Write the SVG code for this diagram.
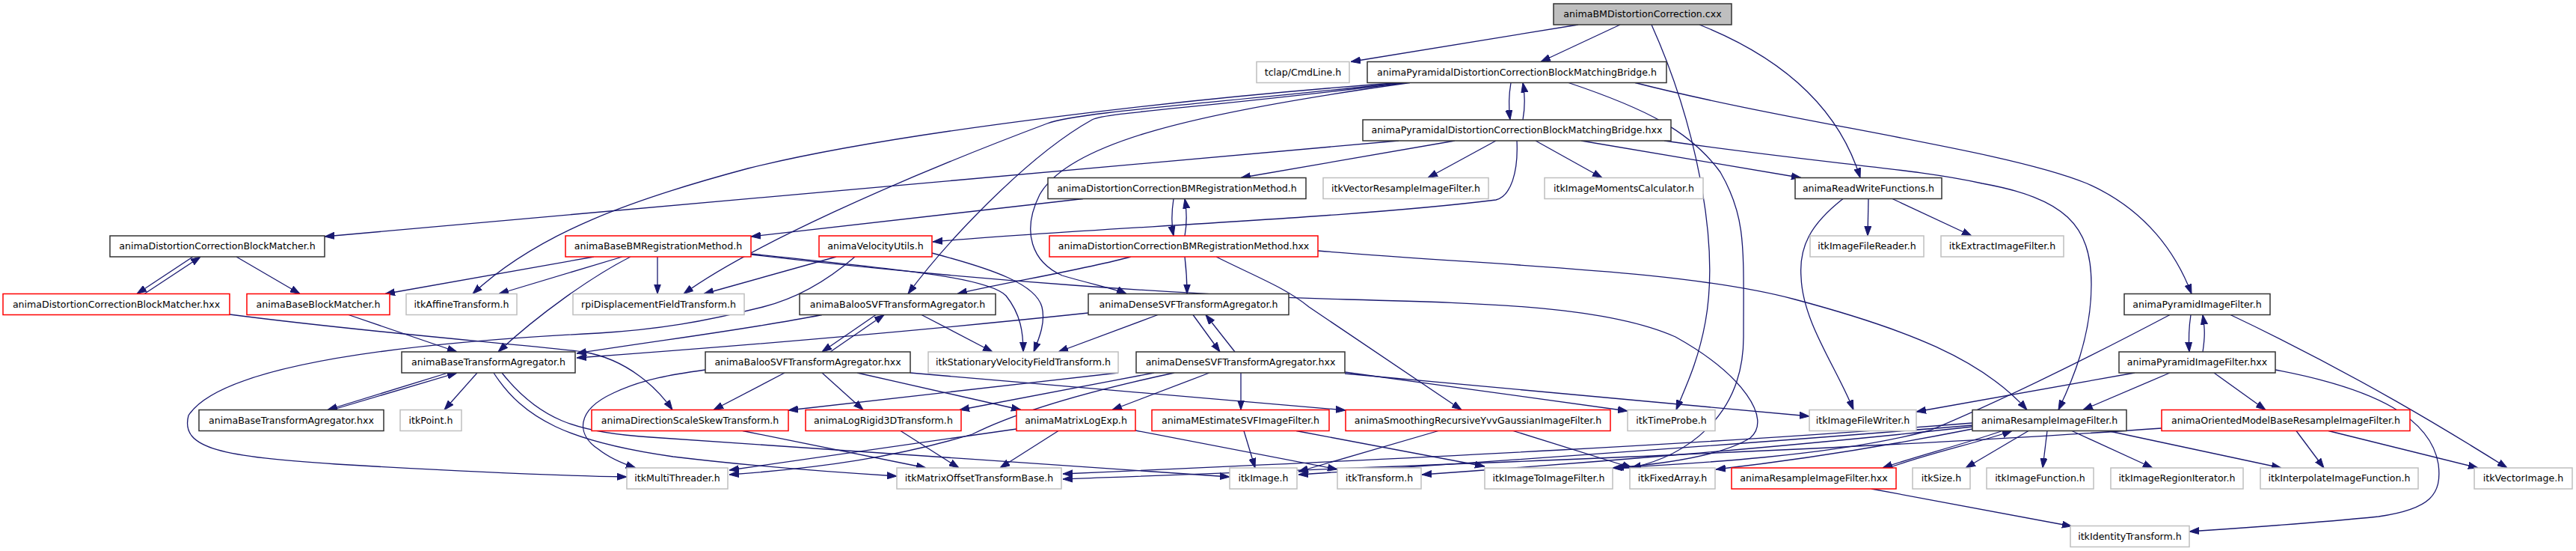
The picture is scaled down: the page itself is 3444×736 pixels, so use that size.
<svg xmlns="http://www.w3.org/2000/svg" width="3444" height="736" viewBox="0 0 3444 736">
<style>
.node rect{stroke-width:1.5}
.dk rect{fill:#fff;stroke:#333}
.gr rect{fill:#fff;stroke:#bfbfbf}
.rd rect{fill:#fff;stroke:#ff0000}
.top rect{fill:#bfbfbf;stroke:#333}
.node text{font-family:"DejaVu Sans",sans-serif;font-size:12.6px;fill:#000;text-anchor:middle}
#edges path{fill:none;stroke:#191970;stroke-width:1.3;marker-end:url(#ah)}
</style>
<defs>
<marker id="ah" viewBox="0 0 13 10" refX="13" refY="5" markerWidth="13" markerHeight="10" orient="auto" markerUnits="userSpaceOnUse">
<path d="M0,0.5 L13,5 L0,9.5 z" fill="#191970" stroke="#191970" stroke-width="1"/>
</marker>
</defs>
<rect width="3444" height="736" fill="#fff"/>
<g id="edges">
<path d="M2110,33 L1806,82.5"/>
<path d="M2166,33 L2060,82.5"/>
<path d="M2208,33 C2265,160 2300,320 2280,430 C2270,485 2252,520 2241,547.5"/>
<path d="M2272,33 C2390,80 2460,150 2487,237.5"/>
<path d="M2020,110.5 C2017,128 2017,145 2019,160"/>
<path d="M2036,160 C2039,143 2039,127 2036,110.5"/>
<path d="M2186,110.5 C2400,165 2680,200 2790,245 C2870,280 2910,340 2930,392.5"/>
<path d="M2097,110.5 C2200,145 2260,175 2300,230 C2335,290 2331,330 2331,450 C2331,560 2250,610 2181,625"/>
<path d="M1870,110.5 C1600,130 1200,175 1000,225 C850,265 720,310 632,392.5"/>
<path d="M1875,110.5 C1600,140 1440,150 1400,165 C1200,240 1000,330 914,392.5"/>
<path d="M1880,110.5 C1600,145 1480,150 1460,160 C1370,210 1260,330 1214,392.5"/>
<path d="M1885,110.5 C1600,150 1430,190 1390,260 C1365,310 1380,350 1420,368 C1460,380 1490,385 1506,392.5"/>
<path d="M1945,188 L1659,237.5"/>
<path d="M1870,188 L434,316"/>
<path d="M2000,188 L1909,237.5"/>
<path d="M2053,188 L2142,237.5"/>
<path d="M2114,188 L2408,237.5"/>
<path d="M2225,188 C2450,220 2560,225 2650,245 C2760,265 2796,300 2796,380 C2796,450 2770,510 2752,547.5"/>
<path d="M2028,188 C2030,230 2020,262 2000,267 C1800,292 1450,305 1247,323"/>
<path d="M1448,265.5 L1004,316"/>
<path d="M1569,265.5 C1566,285 1566,300 1569,315"/>
<path d="M1584,315 C1587,298 1587,283 1584,265.5"/>
<path d="M1512,343 C1450,360 1330,380 1280,392.5"/>
<path d="M1584,343 C1586,360 1587,375 1587,392.5"/>
<path d="M1626,343 C1680,370 1720,385 1750,410 L1954,547.5"/>
<path d="M1762,335 C2000,355 2250,360 2400,400 C2550,440 2650,480 2710,547.5"/>
<path d="M2498,265.5 L2497,315"/>
<path d="M2530,265.5 L2636,315"/>
<path d="M2464,265.5 C2420,300 2405,330 2408,370 C2410,430 2455,490 2478,547.5"/>
<path d="M258,343 L183,392.5"/>
<path d="M193,392.5 L268,343"/>
<path d="M316,343 L401,392.5"/>
<path d="M794,343 L515,392.5"/>
<path d="M832,343 L667,392.5"/>
<path d="M843,343 C790,370 720,420 666,470"/>
<path d="M879,343 L879,392.5"/>
<path d="M1004,339 C1200,360 1320,370 1345,395 C1365,420 1368,445 1368,470"/>
<path d="M1004,340 C1300,375 1600,395 1800,400 C2000,405 2150,410 2240,450 C2330,500 2370,560 2340,585 C2300,610 2220,620 2158,625"/>
<path d="M1118,343 L941,392.5"/>
<path d="M1143,343 C1100,380 1060,400 1020,410 C940,430 880,440 800,445 C600,455 300,480 252,555 C240,600 300,610 450,620 C650,632 780,636 838,637"/>
<path d="M1246,338 C1330,360 1385,380 1393,410 C1398,430 1390,450 1382,470"/>
<path d="M307,420 C500,445 700,460 780,470 C840,480 880,520 899,547.5"/>
<path d="M466,420.5 L611,470"/>
<path d="M1099,420.5 C1000,440 900,452 771,472"/>
<path d="M1455,418 C1200,445 950,465 771,478"/>
<path d="M1171,420.5 L1099,470"/>
<path d="M1110,470 L1182,420.5"/>
<path d="M1232,420.5 L1327,470"/>
<path d="M1548,420.5 L1415,470"/>
<path d="M1595,420.5 L1631,470"/>
<path d="M1651,470 L1612,420.5"/>
<path d="M599,498 L438,547.5"/>
<path d="M444,547.5 L611,498"/>
<path d="M638,498 L594,547.5"/>
<path d="M660,498 C700,560 760,590 900,610 C1000,622 1100,630 1199,636"/>
<path d="M671,498 C720,560 770,578 870,584 C1100,600 1400,620 1644,637"/>
<path d="M1049,498 L954,547.5"/>
<path d="M1099,498 L1154,547.5"/>
<path d="M1146,498 L1365,547.5"/>
<path d="M943,494 C900,500 860,506 820,525 C770,548 770,580 800,600 C815,612 835,620 850,625"/>
<path d="M1217,498 L1799,548"/>
<path d="M1495,498 L1054,548"/>
<path d="M1543,498 L1283,547.5"/>
<path d="M1570,498 C1420,530 1340,560 1300,580 C1200,610 1100,625 975,634"/>
<path d="M1617,498 L1487,547.5"/>
<path d="M1659,498 L1659,547.5"/>
<path d="M1798,497 L2176,549"/>
<path d="M1798,499 L2419,556"/>
<path d="M2945,470 C2948,450 2948,440 2945,420.5"/>
<path d="M2929,420.5 C2926,440 2926,455 2927,470"/>
<path d="M2982,420.5 C3150,500 3280,580 3352,625"/>
<path d="M2901,420.5 C2750,500 2640,550 2580,575 C2450,610 2250,620 2156,625"/>
<path d="M993,575.5 L1238,625"/>
<path d="M1204,575.5 L1282,625"/>
<path d="M1415,575.5 L1337,625"/>
<path d="M1359,573 L975,628"/>
<path d="M1518,575 L1788,627"/>
<path d="M1663,575.5 L1678,625"/>
<path d="M1733,575.5 L1985,623"/>
<path d="M1923,575.5 L1736,630"/>
<path d="M2023,575.5 L2182,625"/>
<path d="M2637,565 C2300,592 1900,612 1421,633"/>
<path d="M2890,572 C2500,600 1900,622 1421,640"/>
<path d="M2637,568 C2300,596 2000,616 1736,634"/>
<path d="M2637,570 C2400,596 2100,620 1901,634"/>
<path d="M2637,573 C2500,600 2400,615 2294,627"/>
<path d="M2677,575.5 C2620,595 2560,610 2517,625"/>
<path d="M2525,625 C2580,605 2650,590 2690,575.5"/>
<path d="M2712,575.5 L2628,625"/>
<path d="M2737,575.5 L2731,625"/>
<path d="M2770,575.5 L2878,625"/>
<path d="M2818,575.5 L3050,625"/>
<path d="M3070,575.5 L3107,625"/>
<path d="M3113,575.5 L3313,625"/>
<path d="M2901,498 L2785,547.5"/>
<path d="M2960,498 L3029,547.5"/>
<path d="M2854,498 L2562,550"/>
<path d="M3042,494 C3180,520 3250,560 3260,620 C3265,660 3250,680 3180,690 C3080,700 3000,705 2927,710"/>
<path d="M2502,653 L2770,703"/>
</g>
<g id="n0" class="node top"><rect x="2077" y="5" width="238" height="28"/><text x="2196" y="23.3">animaBMDistortionCorrection.cxx</text></g>
<g id="n1" class="node gr"><rect x="1680" y="82.5" width="124" height="28"/><text x="1742" y="100.8">tclap/CmdLine.h</text></g>
<g id="n2" class="node dk"><rect x="1828" y="82.5" width="400" height="28"/><text x="2028" y="100.8">animaPyramidalDistortionCorrectionBlockMatchingBridge.h</text></g>
<g id="n3" class="node dk"><rect x="1822" y="160" width="412" height="28"/><text x="2028" y="178.3">animaPyramidalDistortionCorrectionBlockMatchingBridge.hxx</text></g>
<g id="n4" class="node dk"><rect x="1401" y="237.5" width="345" height="28"/><text x="1573.5" y="255.8">animaDistortionCorrectionBMRegistrationMethod.h</text></g>
<g id="n5" class="node gr"><rect x="1769" y="237.5" width="221" height="28"/><text x="1879.5" y="255.8">itkVectorResampleImageFilter.h</text></g>
<g id="n6" class="node gr"><rect x="2065" y="237.5" width="212" height="28"/><text x="2171" y="255.8">itkImageMomentsCalculator.h</text></g>
<g id="n7" class="node dk"><rect x="2400" y="237.5" width="196" height="28"/><text x="2498" y="255.8">animaReadWriteFunctions.h</text></g>
<g id="n8" class="node dk"><rect x="147" y="315" width="287" height="28"/><text x="290.5" y="333.3">animaDistortionCorrectionBlockMatcher.h</text></g>
<g id="n9" class="node rd"><rect x="756" y="315" width="248" height="28"/><text x="880" y="333.3">animaBaseBMRegistrationMethod.h</text></g>
<g id="n10" class="node rd"><rect x="1095" y="315" width="151" height="28"/><text x="1170.5" y="333.3">animaVelocityUtils.h</text></g>
<g id="n11" class="node rd"><rect x="1403" y="315" width="359" height="28"/><text x="1582.5" y="333.3">animaDistortionCorrectionBMRegistrationMethod.hxx</text></g>
<g id="n12" class="node gr"><rect x="2420" y="315" width="152" height="28"/><text x="2496" y="333.3">itkImageFileReader.h</text></g>
<g id="n13" class="node gr"><rect x="2595" y="315" width="164" height="28"/><text x="2677" y="333.3">itkExtractImageFilter.h</text></g>
<g id="n14" class="node rd"><rect x="4" y="392.5" width="303" height="28"/><text x="155.5" y="410.8">animaDistortionCorrectionBlockMatcher.hxx</text></g>
<g id="n15" class="node rd"><rect x="330" y="392.5" width="191" height="28"/><text x="425.5" y="410.8">animaBaseBlockMatcher.h</text></g>
<g id="n16" class="node gr"><rect x="543" y="392.5" width="148" height="28"/><text x="617" y="410.8">itkAffineTransform.h</text></g>
<g id="n17" class="node gr"><rect x="766" y="392.5" width="229" height="28"/><text x="880.5" y="410.8">rpiDisplacementFieldTransform.h</text></g>
<g id="n18" class="node dk"><rect x="1069" y="392.5" width="262" height="28"/><text x="1200" y="410.8">animaBalooSVFTransformAgregator.h</text></g>
<g id="n19" class="node dk"><rect x="1455" y="392.5" width="268" height="28"/><text x="1589" y="410.8">animaDenseSVFTransformAgregator.h</text></g>
<g id="n20" class="node dk"><rect x="2840" y="392.5" width="195" height="28"/><text x="2937.5" y="410.8">animaPyramidImageFilter.h</text></g>
<g id="n21" class="node dk"><rect x="537" y="470" width="232" height="28"/><text x="653" y="488.3">animaBaseTransformAgregator.h</text></g>
<g id="n22" class="node dk"><rect x="943" y="470" width="274" height="28"/><text x="1080" y="488.3">animaBalooSVFTransformAgregator.hxx</text></g>
<g id="n23" class="node gr"><rect x="1241" y="470" width="254" height="28"/><text x="1368" y="488.3">itkStationaryVelocityFieldTransform.h</text></g>
<g id="n24" class="node dk"><rect x="1519" y="470" width="279" height="28"/><text x="1658.5" y="488.3">animaDenseSVFTransformAgregator.hxx</text></g>
<g id="n25" class="node dk"><rect x="2833" y="470" width="209" height="28"/><text x="2937.5" y="488.3">animaPyramidImageFilter.hxx</text></g>
<g id="n26" class="node dk"><rect x="266" y="547.5" width="247" height="28"/><text x="389.5" y="565.8">animaBaseTransformAgregator.hxx</text></g>
<g id="n27" class="node gr"><rect x="535" y="547.5" width="82" height="28"/><text x="576" y="565.8">itkPoint.h</text></g>
<g id="n28" class="node rd"><rect x="791" y="547.5" width="263" height="28"/><text x="922.5" y="565.8">animaDirectionScaleSkewTransform.h</text></g>
<g id="n29" class="node rd"><rect x="1077" y="547.5" width="208" height="28"/><text x="1181" y="565.8">animaLogRigid3DTransform.h</text></g>
<g id="n30" class="node rd"><rect x="1359" y="547.5" width="159" height="28"/><text x="1438.5" y="565.8">animaMatrixLogExp.h</text></g>
<g id="n31" class="node rd"><rect x="1540" y="547.5" width="237" height="28"/><text x="1658.5" y="565.8">animaMEstimateSVFImageFilter.h</text></g>
<g id="n32" class="node rd"><rect x="1799" y="547.5" width="354" height="28"/><text x="1976" y="565.8">animaSmoothingRecursiveYvvGaussianImageFilter.h</text></g>
<g id="n33" class="node gr"><rect x="2176" y="547.5" width="117" height="28"/><text x="2234.5" y="565.8">itkTimeProbe.h</text></g>
<g id="n34" class="node gr"><rect x="2419" y="547.5" width="143" height="28"/><text x="2490.5" y="565.8">itkImageFileWriter.h</text></g>
<g id="n35" class="node dk"><rect x="2637" y="547.5" width="206" height="28"/><text x="2740" y="565.8">animaResampleImageFilter.h</text></g>
<g id="n36" class="node rd"><rect x="2890" y="547.5" width="332" height="28"/><text x="3056" y="565.8">animaOrientedModelBaseResampleImageFilter.h</text></g>
<g id="n37" class="node gr"><rect x="838" y="625" width="135" height="28"/><text x="905.5" y="643.3">itkMultiThreader.h</text></g>
<g id="n38" class="node gr"><rect x="1199" y="625" width="220" height="28"/><text x="1309" y="643.3">itkMatrixOffsetTransformBase.h</text></g>
<g id="n39" class="node gr"><rect x="1644" y="625" width="90" height="28"/><text x="1689" y="643.3">itkImage.h</text></g>
<g id="n40" class="node gr"><rect x="1788" y="625" width="112" height="28"/><text x="1844" y="643.3">itkTransform.h</text></g>
<g id="n41" class="node gr"><rect x="1985" y="625" width="171" height="28"/><text x="2070.5" y="643.3">itkImageToImageFilter.h</text></g>
<g id="n42" class="node gr"><rect x="2179" y="625" width="114" height="28"/><text x="2236" y="643.3">itkFixedArray.h</text></g>
<g id="n43" class="node rd"><rect x="2315" y="625" width="220" height="28"/><text x="2425" y="643.3">animaResampleImageFilter.hxx</text></g>
<g id="n44" class="node gr"><rect x="2557" y="625" width="77" height="28"/><text x="2595.5" y="643.3">itkSize.h</text></g>
<g id="n45" class="node gr"><rect x="2656" y="625" width="143" height="28"/><text x="2727.5" y="643.3">itkImageFunction.h</text></g>
<g id="n46" class="node gr"><rect x="2822" y="625" width="177" height="28"/><text x="2910.5" y="643.3">itkImageRegionIterator.h</text></g>
<g id="n47" class="node gr"><rect x="3022" y="625" width="211" height="28"/><text x="3127.5" y="643.3">itkInterpolateImageFunction.h</text></g>
<g id="n48" class="node gr"><rect x="3308" y="625" width="131" height="28"/><text x="3373.5" y="643.3">itkVectorImage.h</text></g>
<g id="n49" class="node gr"><rect x="2768" y="702.5" width="159" height="28"/><text x="2847.5" y="720.8">itkIdentityTransform.h</text></g>
</svg>
